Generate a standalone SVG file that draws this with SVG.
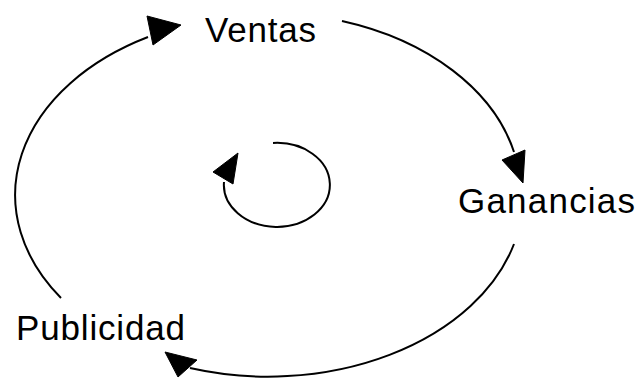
<svg xmlns="http://www.w3.org/2000/svg" width="641" height="378" viewBox="0 0 641 378">
<style>
.lbl{font-family:"Liberation Sans",Arial,sans-serif;font-size:35px;fill:#000}
.arc{fill:none;stroke:#000;stroke-width:2}
.head{fill:#000;stroke:#000;stroke-width:1}
</style>
<rect width="641" height="378" fill="#fff"/>
<g id="connectors">
<path class="arc" d="M 61 298 A 255 180 0 0 1 148 37"/>
<polygon class="head" points="147,16 181,25 153,45"/>
<path class="arc" d="M 342 21 A 255 180 0 0 1 514 152"/>
<polygon class="head" points="502,160 525,150 523,183"/>
<path class="arc" d="M 514 244 A 255 180 0 0 1 190 368"/>
<polygon class="head" points="165,352 197,360 178,377"/>
<path class="arc" d="M 273 143 A 53 42 0 1 1 224 182"/>
<polygon class="head" points="238,153 213,172 233,184"/>
</g>
<g id="ventas"><text class="lbl" x="205" y="42" textLength="111" lengthAdjust="spacing">Ventas</text></g>
<g id="ganancias"><text class="lbl" x="458" y="213" textLength="177" lengthAdjust="spacing">Ganancias</text></g>
<g id="publicidad"><text class="lbl" x="16" y="340" textLength="169" lengthAdjust="spacing">Publicidad</text></g>
</svg>
